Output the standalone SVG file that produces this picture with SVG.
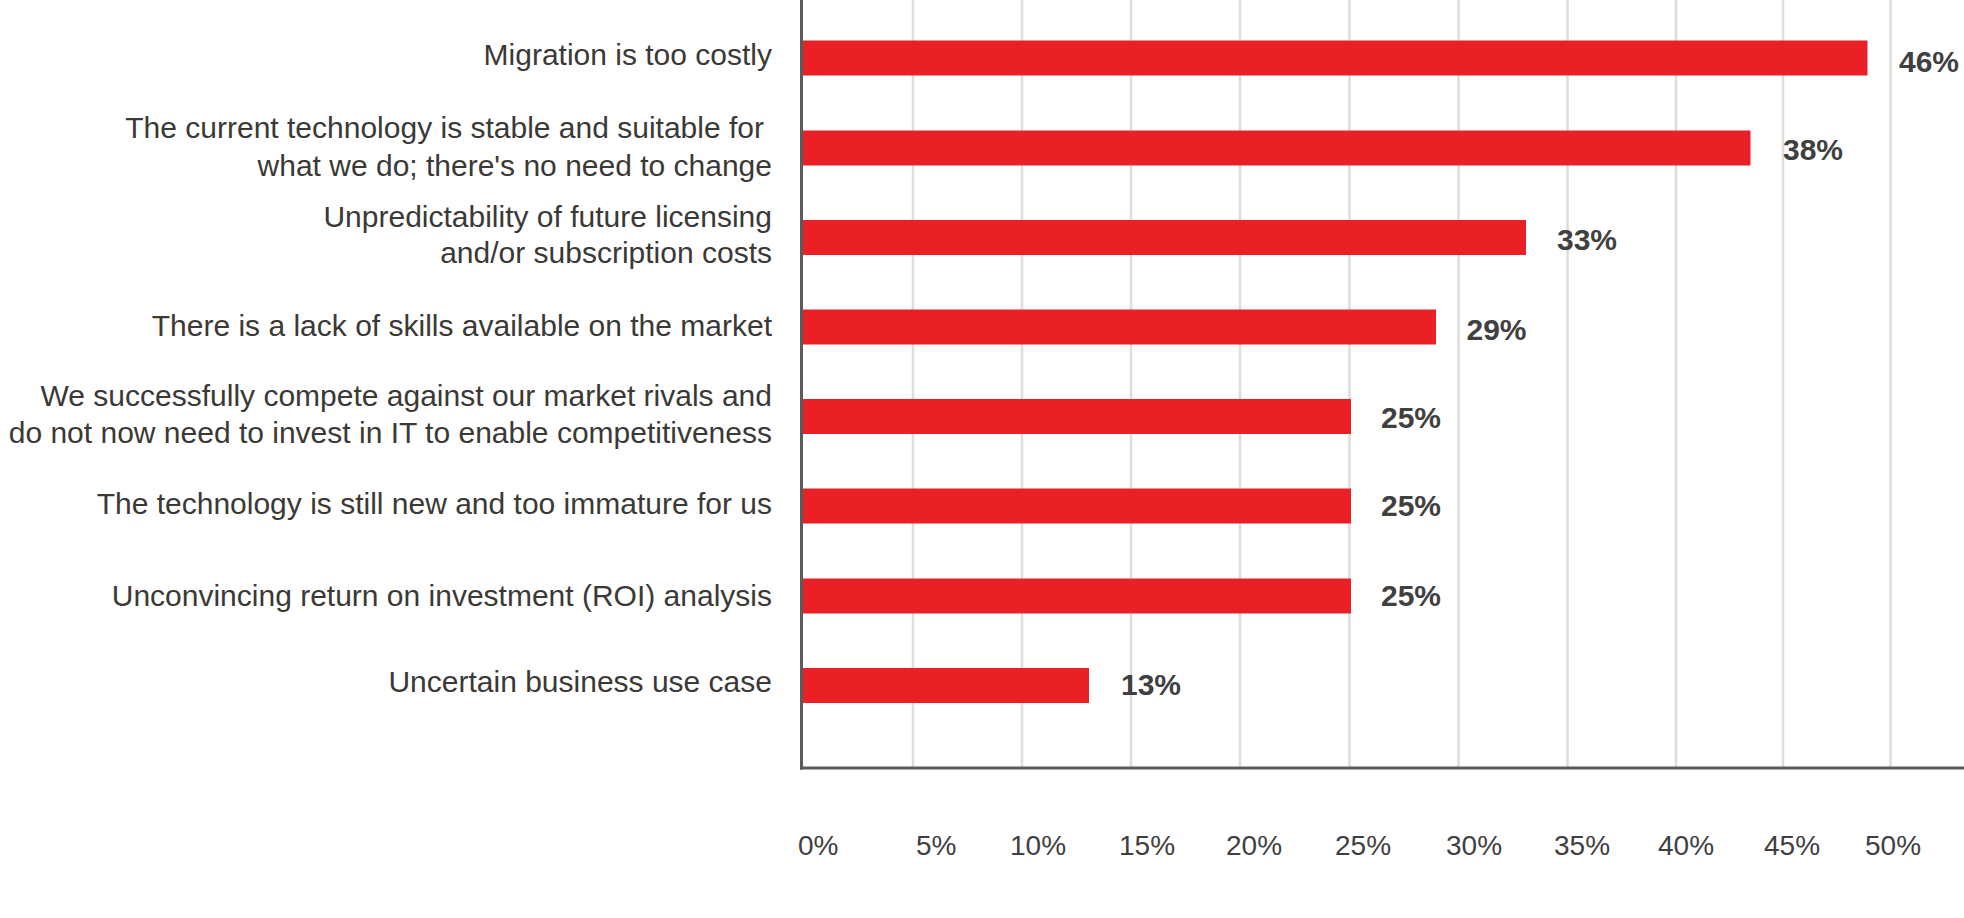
<svg xmlns="http://www.w3.org/2000/svg" width="1964" height="918" viewBox="0 0 1964 918">
<style>
.bg{fill:#ffffff}
.grid{stroke:#dedede;stroke-width:2.6}
.axis{stroke:#5b5b5b;stroke-width:3;fill:none}
.bar{fill:#ea2027}
.cat{font-family:"Liberation Sans",Arial,sans-serif;font-size:30px;fill:#3b3935;text-anchor:end}
.val{font-family:"Liberation Sans",Arial,sans-serif;font-size:30px;font-weight:bold;fill:#404040}
.tick{font-family:"Liberation Sans",Arial,sans-serif;font-size:28px;fill:#404040}
</style>
<rect class="bg" x="0" y="0" width="1964" height="918"/>
<g id="gridlines">
<line class="grid" x1="913" y1="0" x2="913" y2="767"/>
<line class="grid" x1="1022" y1="0" x2="1022" y2="767"/>
<line class="grid" x1="1131" y1="0" x2="1131" y2="767"/>
<line class="grid" x1="1240" y1="0" x2="1240" y2="767"/>
<line class="grid" x1="1349.5" y1="0" x2="1349.5" y2="767"/>
<line class="grid" x1="1458.5" y1="0" x2="1458.5" y2="767"/>
<line class="grid" x1="1567.5" y1="0" x2="1567.5" y2="767"/>
<line class="grid" x1="1676" y1="0" x2="1676" y2="767"/>
<line class="grid" x1="1783" y1="0" x2="1783" y2="767"/>
<line class="grid" x1="1890.5" y1="0" x2="1890.5" y2="767"/>
</g>
<g id="bar1">
<text class="cat" x="772" y="65">Migration is too costly</text>
<rect class="bar" x="803" y="40.5" width="1064.5" height="35"/>
<text class="val" x="1899" y="71.7">46%</text>
</g>
<g id="bar2">
<text class="cat" x="764" y="138.3">The current technology is stable and suitable for</text>
<text class="cat" x="772" y="176">what we do; there's no need to change</text>
<rect class="bar" x="803" y="130.5" width="947.5" height="35"/>
<text class="val" x="1783" y="160">38%</text>
</g>
<g id="bar3">
<text class="cat" x="772" y="226.7">Unpredictability of future licensing</text>
<text class="cat" x="772" y="263.3">and/or subscription costs</text>
<rect class="bar" x="803" y="220" width="723" height="35"/>
<text class="val" x="1557" y="250">33%</text>
</g>
<g id="bar4">
<text class="cat" x="772" y="335.7">There is a lack of skills available on the market</text>
<rect class="bar" x="803" y="309.5" width="633" height="35"/>
<text class="val" x="1466.5" y="340">29%</text>
</g>
<g id="bar5">
<text class="cat" x="772" y="406">We successfully compete against our market rivals and</text>
<text class="cat" x="772" y="443.3">do not now need to invest in IT to enable competitiveness</text>
<rect class="bar" x="803" y="399" width="548" height="35"/>
<text class="val" x="1381" y="428.3">25%</text>
</g>
<g id="bar6">
<text class="cat" x="772" y="514">The technology is still new and too immature for us</text>
<rect class="bar" x="803" y="488.5" width="548" height="35"/>
<text class="val" x="1381" y="516">25%</text>
</g>
<g id="bar7">
<text class="cat" x="772" y="606">Unconvincing return on investment (ROI) analysis</text>
<rect class="bar" x="803" y="578.5" width="548" height="35"/>
<text class="val" x="1381" y="606">25%</text>
</g>
<g id="bar8">
<text class="cat" x="772" y="691.7">Uncertain business use case</text>
<rect class="bar" x="803" y="668" width="286" height="35"/>
<text class="val" x="1121" y="695">13%</text>
</g>
<g id="axes">
<line class="axis" x1="801.5" y1="0" x2="801.5" y2="769.5"/>
<line class="axis" x1="800" y1="768" x2="1964" y2="768" stroke-width="3.5"/>
</g>
<g id="ticks">
<text class="tick" x="798" y="855">0%</text>
<text class="tick" x="916" y="855">5%</text>
<text class="tick" x="1010" y="855">10%</text>
<text class="tick" x="1119" y="855">15%</text>
<text class="tick" x="1226" y="855">20%</text>
<text class="tick" x="1335" y="855">25%</text>
<text class="tick" x="1446" y="855">30%</text>
<text class="tick" x="1554" y="855">35%</text>
<text class="tick" x="1658" y="855">40%</text>
<text class="tick" x="1764" y="855">45%</text>
<text class="tick" x="1865" y="855">50%</text>
</g>
</svg>
